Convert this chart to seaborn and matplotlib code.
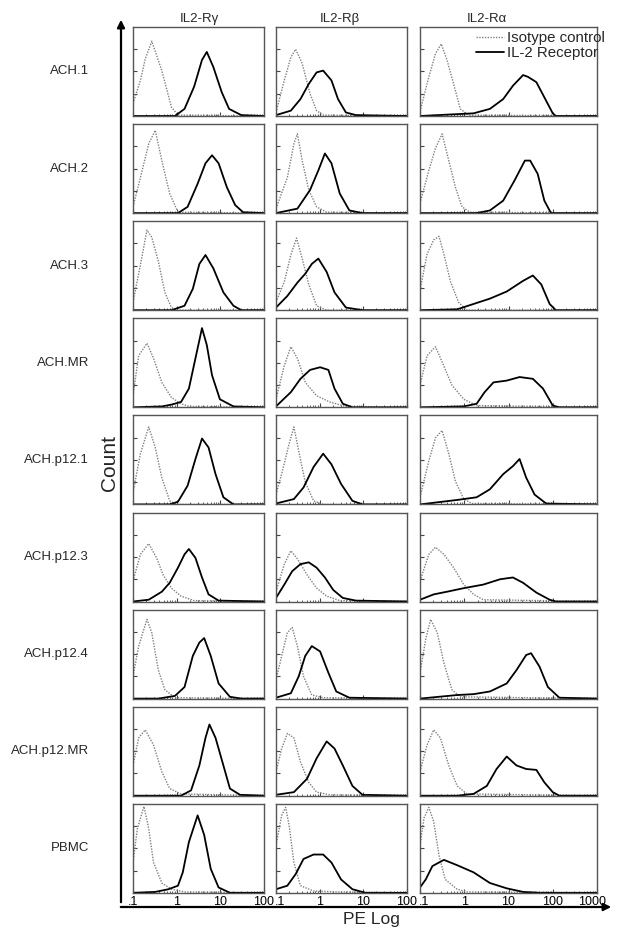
import numpy as np
import matplotlib
matplotlib.use("Agg")
import matplotlib.pyplot as plt
import matplotlib.transforms as mtransforms
from matplotlib.patches import FancyArrowPatch
import seaborn as sns

# rows and columns
samples = ["ACH.1", "ACH.2", "ACH.3", "ACH.MR", "ACH.p12.1", "ACH.p12.3",
           "ACH.p12.4", "ACH.p12.MR", "PBMC"]
receptors = ["IL2-R\u03b3", "IL2-R\u03b2", "IL2-R\u03b1"]
decades = [2, 2, 3]   # upper limit of each column, log10 PE
tick_text = [".1", "1", "10", "100", "1000"]

# curves: (log10 PE, % of panel height)
gamma_iso = [
    [(-1, 14), (-0.83, 40), (-0.72, 64), (-0.57, 84), (-0.34, 51), (-0.12, 10), (0.03, 1), (2, 0)],
    [(-1, 7), (-0.83, 40), (-0.64, 78), (-0.49, 93), (-0.34, 59), (-0.16, 22), (0.03, 1), (2, 0)],
    [(-1, 9), (-0.83, 51), (-0.68, 90), (-0.57, 82), (-0.42, 55), (-0.27, 20), (-0.12, 3), (0.03, 0), (2, 0)],
    [(-1, 13), (-0.87, 58), (-0.68, 72), (-0.53, 55), (-0.34, 28), (-0.12, 11), (0.10, 4), (0.28, 1), (2, 0)],
    [(-1, 13), (-0.83, 57), (-0.64, 87), (-0.49, 64), (-0.34, 30), (-0.16, 4), (-0.01, 0), (2, 0)],
    [(-1, 23), (-0.83, 53), (-0.64, 65), (-0.46, 49), (-0.31, 30), (-0.12, 15), (0.10, 6), (0.40, 1), (2, 0)],
    [(-1, 25), (-0.87, 59), (-0.68, 89), (-0.57, 74), (-0.42, 32), (-0.27, 10), (-0.04, 1), (2, 0)],
    [(-1, 34), (-0.87, 65), (-0.72, 74), (-0.53, 57), (-0.34, 27), (-0.16, 8), (0.10, 2), (2, 0)],
    [(-1, 34), (-0.90, 72), (-0.75, 97), (-0.64, 72), (-0.53, 34), (-0.34, 11), (-0.12, 4), (0.18, 1), (2, 0)],
]
gamma_rec = [
    [(-1, 0), (-0.04, 0), (0.18, 8), (0.40, 33), (0.58, 63), (0.69, 72), (0.84, 55), (1.03, 27), (1.20, 8), (1.48, 1), (2, 0)],
    [(-1, 0), (0.03, 0), (0.25, 7), (0.48, 33), (0.66, 56), (0.81, 65), (0.96, 56), (1.15, 29), (1.34, 9), (1.52, 1), (2, 0)],
    [(-1, 0), (-0.12, 0), (0.18, 5), (0.37, 24), (0.52, 52), (0.66, 62), (0.84, 47), (1.07, 20), (1.30, 5), (1.48, 0), (2, 0)],
    [(-1, 0), (-0.34, 1), (-0.12, 3), (0.10, 6), (0.28, 21), (0.43, 55), (0.58, 89), (0.69, 70), (0.81, 36), (0.99, 9), (1.30, 1), (2, 0)],
    [(-1, 0), (-0.16, 0), (0.03, 3), (0.25, 21), (0.43, 51), (0.58, 74), (0.73, 64), (0.89, 34), (1.07, 8), (1.30, 0), (2, 0)],
    [(-1, 0), (-0.64, 2), (-0.34, 11), (-0.16, 21), (0.03, 38), (0.18, 53), (0.28, 59), (0.43, 49), (0.58, 27), (0.73, 8), (0.96, 1), (2, 0)],
    [(-1, 0), (-0.42, 0), (-0.04, 3), (0.18, 13), (0.37, 48), (0.52, 63), (0.63, 68), (0.78, 48), (0.96, 17), (1.22, 2), (1.48, 0), (2, 0)],
    [(-1, 0), (0.10, 0), (0.33, 6), (0.52, 34), (0.66, 65), (0.75, 80), (0.89, 65), (1.07, 34), (1.22, 8), (1.45, 1), (2, 0)],
    [(-1, 0), (-0.49, 1), (-0.19, 4), (0.03, 8), (0.14, 23), (0.28, 57), (0.48, 87), (0.63, 65), (0.78, 27), (0.96, 6), (1.22, 0), (2, 0)],
]
beta_iso = [
    [(-1, 4), (-0.81, 40), (-0.66, 66), (-0.55, 75), (-0.40, 59), (-0.22, 25), (-0.07, 6), (0.08, 1), (2, 0)],
    [(-1, 5), (-0.74, 40), (-0.59, 78), (-0.51, 89), (-0.40, 59), (-0.25, 26), (-0.07, 7), (0.16, 1), (2, 0)],
    [(-1, 9), (-0.81, 32), (-0.66, 62), (-0.53, 81), (-0.40, 58), (-0.25, 29), (-0.07, 5), (0.16, 0), (2, 0)],
    [(-1, 9), (-0.81, 47), (-0.66, 68), (-0.51, 55), (-0.33, 28), (-0.07, 13), (0.23, 6), (0.60, 1), (2, 0)],
    [(-1, 11), (-0.85, 38), (-0.70, 68), (-0.59, 87), (-0.48, 60), (-0.33, 25), (-0.14, 4), (0.08, 0), (2, 0)],
    [(-1, 11), (-0.81, 42), (-0.66, 57), (-0.51, 48), (-0.29, 30), (-0.07, 15), (0.16, 6), (0.46, 1), (2, 0)],
    [(-1, 21), (-0.85, 52), (-0.74, 74), (-0.63, 80), (-0.51, 59), (-0.37, 25), (-0.18, 4), (0.08, 1), (2, 0)],
    [(-1, 27), (-0.87, 53), (-0.74, 70), (-0.59, 65), (-0.44, 38), (-0.25, 15), (-0.07, 4), (0.23, 1), (2, 0)],
    [(-1, 53), (-0.87, 87), (-0.78, 96), (-0.70, 76), (-0.59, 34), (-0.44, 8), (-0.14, 2), (0.46, 1), (2, 0)],
]
beta_rec = [
    [(-1, 1), (-0.66, 6), (-0.44, 19), (-0.25, 36), (-0.07, 49), (0.08, 51), (0.27, 40), (0.42, 19), (0.60, 4), (0.83, 1), (2, 0)],
    [(-1, 0), (-0.51, 5), (-0.22, 26), (-0.03, 48), (0.12, 67), (0.27, 56), (0.46, 22), (0.68, 3), (0.98, 0), (2, 0)],
    [(-1, 3), (-0.74, 16), (-0.51, 31), (-0.33, 41), (-0.18, 52), (-0.03, 58), (0.16, 43), (0.34, 20), (0.60, 3), (0.98, 0), (2, 0)],
    [(-1, 1), (-0.66, 17), (-0.44, 32), (-0.22, 42), (0.01, 45), (0.20, 42), (0.34, 21), (0.53, 4), (0.75, 0), (2, 0)],
    [(-1, 1), (-0.59, 6), (-0.37, 19), (-0.14, 42), (0.08, 57), (0.27, 45), (0.49, 23), (0.75, 4), (0.98, 0), (2, 0)],
    [(-1, 4), (-0.81, 19), (-0.63, 34), (-0.44, 42), (-0.25, 44), (-0.07, 38), (0.12, 27), (0.31, 13), (0.53, 4), (0.83, 1), (2, 0)],
    [(-1, 1), (-0.66, 6), (-0.48, 25), (-0.33, 48), (-0.18, 59), (0.01, 53), (0.20, 29), (0.38, 8), (0.68, 1), (2, 0)],
    [(-1, 1), (-0.59, 4), (-0.29, 19), (-0.07, 42), (0.16, 61), (0.34, 53), (0.53, 34), (0.75, 11), (0.98, 1), (2, 0)],
    [(-1, 4), (-0.74, 8), (-0.55, 21), (-0.37, 38), (-0.14, 43), (0.08, 43), (0.27, 34), (0.49, 15), (0.75, 4), (1.05, 0), (2, 0)],
]
alpha_iso = [
    [(-1, 5), (-0.80, 44), (-0.65, 70), (-0.52, 81), (-0.39, 63), (-0.24, 36), (-0.09, 8), (0.10, 1), (3, 0)],
    [(-1, 11), (-0.80, 48), (-0.65, 73), (-0.50, 89), (-0.35, 59), (-0.20, 29), (-0.05, 7), (0.13, 1), (3, 0)],
    [(-1, 22), (-0.84, 63), (-0.69, 79), (-0.57, 83), (-0.46, 63), (-0.31, 32), (-0.13, 9), (0.06, 0), (3, 0)],
    [(-1, 25), (-0.84, 58), (-0.65, 68), (-0.50, 51), (-0.28, 25), (-0.01, 9), (0.28, 2), (3, 0)],
    [(-1, 8), (-0.80, 49), (-0.65, 75), (-0.50, 83), (-0.35, 57), (-0.20, 26), (-0.01, 6), (0.17, 1), (3, 0)],
    [(-1, 23), (-0.80, 53), (-0.65, 61), (-0.46, 53), (-0.24, 38), (-0.01, 19), (0.21, 8), (0.43, 2), (3, 0)],
    [(-1, 29), (-0.87, 67), (-0.76, 89), (-0.61, 74), (-0.46, 40), (-0.28, 10), (-0.09, 2), (3, 0)],
    [(-1, 27), (-0.84, 57), (-0.69, 74), (-0.54, 65), (-0.35, 34), (-0.16, 11), (0.06, 2), (3, 0)],
    [(-1, 53), (-0.91, 84), (-0.80, 96), (-0.69, 80), (-0.57, 42), (-0.43, 15), (-0.16, 4), (0.06, 1), (3, 0)],
]
alpha_rec = [
    [(-1, 0), (0.21, 3), (0.58, 8), (0.88, 19), (1.10, 34), (1.33, 46), (1.44, 44), (1.63, 38), (1.81, 21), (2.0, 3), (2.07, 0), (3, 0)],
    [(-1, 0), (0.28, 0), (0.58, 3), (0.88, 14), (1.14, 37), (1.37, 59), (1.49, 59), (1.66, 44), (1.81, 14), (1.96, 0), (3, 0)],
    [(-1, 0), (-0.16, 1), (0.21, 7), (0.58, 13), (0.96, 21), (1.33, 33), (1.55, 39), (1.74, 29), (1.93, 7), (2.07, 0), (3, 0)],
    [(-1, 0), (-0.01, 1), (0.28, 4), (0.46, 17), (0.66, 28), (0.96, 30), (1.25, 34), (1.55, 32), (1.78, 21), (2.0, 2), (2.15, 0), (3, 0)],
    [(-1, 0), (-0.16, 5), (0.28, 8), (0.58, 17), (0.88, 34), (1.10, 43), (1.25, 51), (1.40, 30), (1.59, 11), (1.85, 1), (3, 0)],
    [(-1, 2), (-0.69, 8), (-0.39, 11), (-0.01, 15), (0.43, 19), (0.81, 25), (1.10, 27), (1.33, 21), (1.63, 10), (1.93, 2), (2.07, 0), (3, 0)],
    [(-1, 0), (-0.16, 4), (0.21, 5), (0.58, 8), (0.96, 17), (1.18, 32), (1.40, 49), (1.51, 51), (1.70, 36), (1.89, 13), (2.15, 1), (3, 0)],
    [(-1, 0), (-0.16, 0), (0.21, 2), (0.51, 11), (0.73, 30), (0.96, 44), (1.18, 34), (1.40, 30), (1.63, 29), (1.81, 15), (2.0, 4), (2.15, 0), (3, 0)],
    [(-1, 6), (-0.87, 15), (-0.72, 30), (-0.46, 37), (-0.16, 31), (0.21, 23), (0.58, 11), (0.96, 5), (1.33, 1), (1.70, 0), (3, 0)],
]

iso_curves = [gamma_iso, beta_iso, alpha_iso]
rec_curves = [gamma_rec, beta_rec, alpha_rec]

sns.set_theme(style="white")
plt.rcParams['font.family'] = ['Liberation Sans', 'DejaVu Sans']

W, H = 630, 938
fig = plt.figure(figsize=(6.3, 9.38), dpi=100)

col_left = [133, 276, 420]
col_width = [131, 131, 177]
header_x = [199, 340, 487]
row_top0, row_pitch, row_h = 27, 97.1, 89

for r, name in enumerate(samples):
    top = row_top0 + r * row_pitch
    for c in range(3):
        ax = fig.add_axes([col_left[c] / W, 1 - (top + row_h) / H,
                           col_width[c] / W, row_h / H])
        iso = np.array(iso_curves[c][r])
        rec = np.array(rec_curves[c][r])
        lab = (r == 0 and c == 2)
        sns.lineplot(x=10 ** iso[:, 0], y=iso[:, 1], ax=ax, color="#808080",
                     linestyle=(0, (1, 1)), linewidth=1.0,
                     label="Isotype control" if lab else None)
        sns.lineplot(x=10 ** rec[:, 0], y=rec[:, 1], ax=ax, color="black",
                     linewidth=1.3, label="IL-2 Receptor" if lab else None)
        ax.set_xscale("log")
        ax.set_xlim(0.1, 10 ** decades[c])
        ax.set_ylim(0, 100)
        ax.set_yticks([25, 50, 75])
        ax.set_yticklabels([])
        ax.set_xlabel("")
        ax.set_ylabel("")
        ax.tick_params(axis="both", which="both", direction="in", colors="#444444",
                       left=True, bottom=True, labelsize=9, pad=2)
        ax.tick_params(axis="both", which="major", length=3, width=0.8)
        ax.tick_params(axis="x", which="minor", length=1.8, width=0.6)
        for s in ax.spines.values():
            s.set_color("#555555")
            s.set_linewidth(1.0)
        ticks = [10.0 ** k for k in range(-1, decades[c] + 1)]
        ax.set_xticks(ticks)
        if r == len(samples) - 1:
            ax.set_xticklabels(tick_text[:len(ticks)])
            labels = ax.get_xticklabels()
            for t in labels:
                t.set_color("black")
            # nudge the edge labels apart like in the print
            if c > 0:
                labels[0].set_transform(labels[0].get_transform() +
                                        mtransforms.ScaledTranslation(4 / 100, 0, fig.dpi_scale_trans))
            if c == 2:
                labels[-1].set_transform(labels[-1].get_transform() +
                                         mtransforms.ScaledTranslation(-5 / 100, 0, fig.dpi_scale_trans))
        else:
            ax.set_xticklabels([])
        if lab:
            ax.legend(loc="upper right", frameon=False, fontsize=10.8,
                      handlelength=1.9, handletextpad=0.2, borderaxespad=0,
                      borderpad=0, labelspacing=0.1,
                      bbox_to_anchor=(605 / W, 1 - 31 / H),
                      bbox_transform=fig.transFigure)
    fig.text(89 / W, 1 - (top + row_h / 2) / H, name, ha="right",
             va="center", fontsize=9.5)

for c in range(3):
    fig.text(header_x[c] / W, 1 - 22 / H, receptors[c], ha="center",
             va="baseline", fontsize=9.5)

# big axis arrows
fig.add_artist(FancyArrowPatch((121 / W, 1 - 905 / H), (121 / W, 1 - 17 / H),
                               transform=fig.transFigure, arrowstyle="-|>",
                               mutation_scale=11, lw=1.6, color="black"))
fig.add_artist(FancyArrowPatch((118 / W, 1 - 907 / H), (614 / W, 1 - 907 / H),
                               transform=fig.transFigure, arrowstyle="-|>",
                               mutation_scale=11, lw=1.6, color="black"))
fig.text(109 / W, 1 - 463 / H, "Count", rotation=90, ha="center",
         va="center", fontsize=15)
fig.text(371 / W, 1 - 919 / H, "PE Log", ha="center", va="center", fontsize=12.5)

fig.savefig("out.png", dpi=100, facecolor="white")
